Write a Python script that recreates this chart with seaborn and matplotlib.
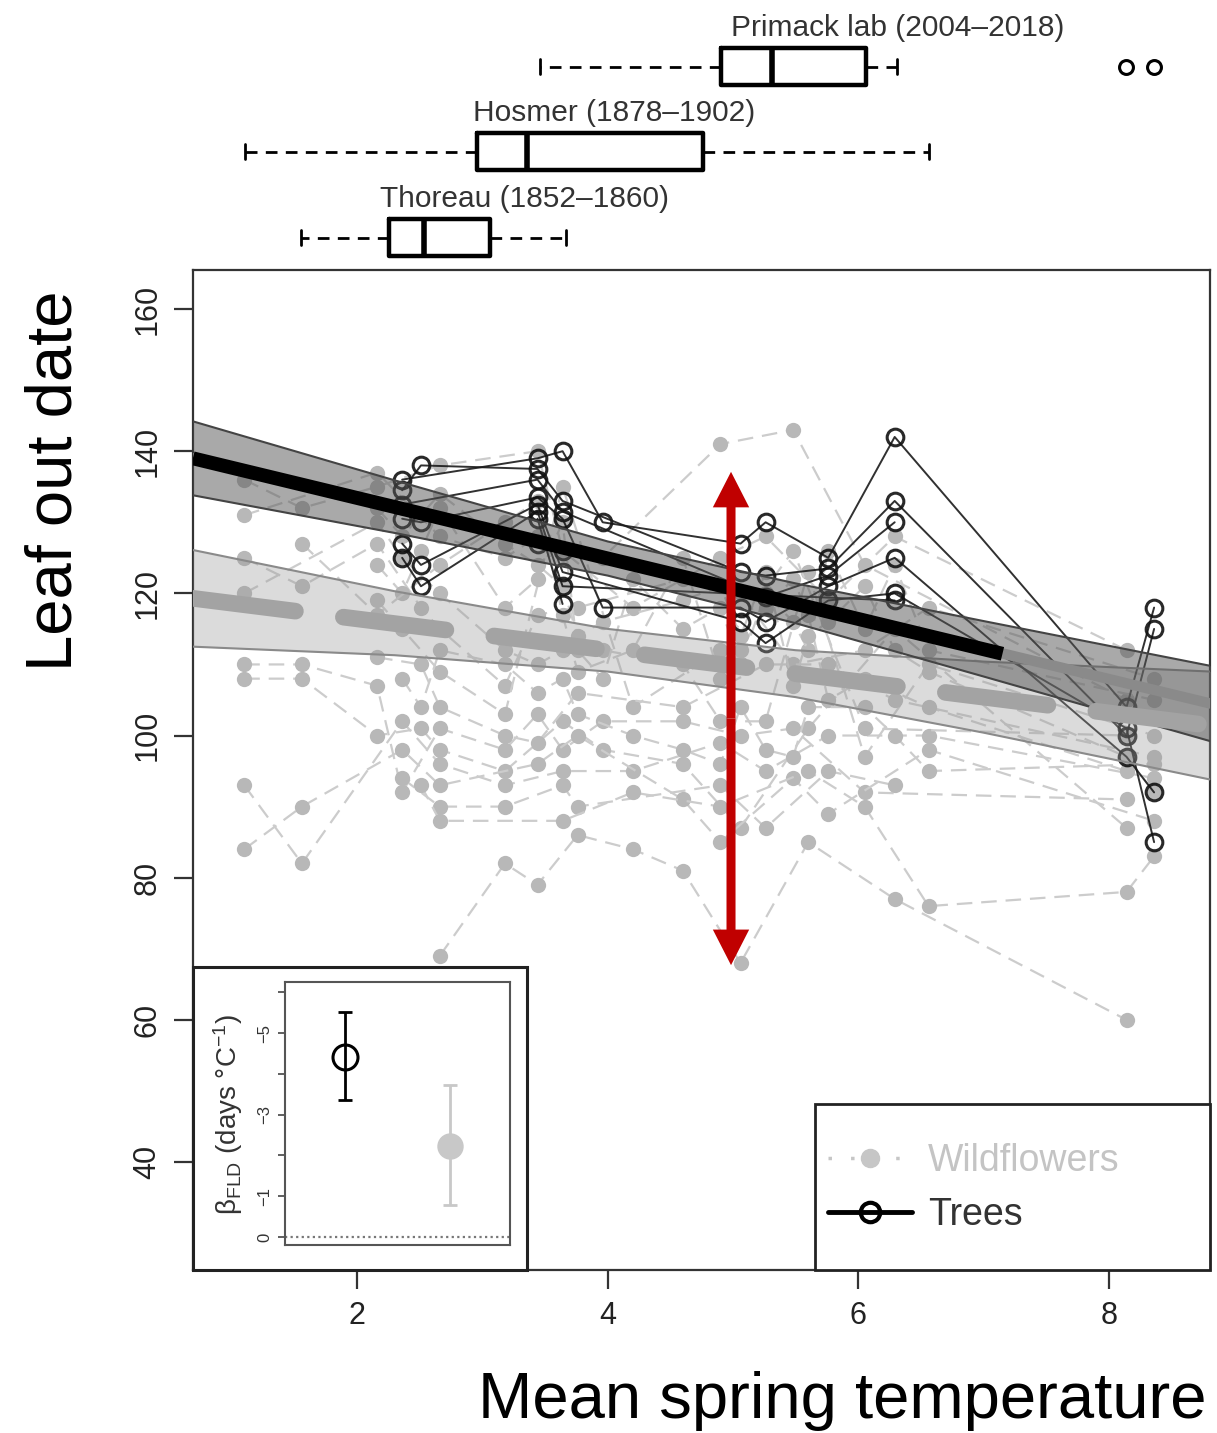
import numpy as np
import pandas as pd
import matplotlib
matplotlib.use("Agg")
import matplotlib.pyplot as plt
from matplotlib.lines import Line2D
from matplotlib.patches import Rectangle
import seaborn as sns

n = np.nan
# ---------------- data ----------------
# year mean spring temperatures at which wildflowers were observed
wf_temps = [1.10, 1.56, 2.16, 2.36, 2.51, 2.66, 3.18, 3.44, 3.64, 3.76, 3.96, 4.20,
            4.60, 4.90, 5.06, 5.26, 5.48, 5.60, 5.76, 6.05, 6.29, 6.56, 8.14, 8.36]
wf_A = [136, 132, 135, n, n, 138, n, 140, 126, n, n, 118, n, 125, n, 128, n, n, 119, n, 128, n, 112, n]
wf_B = [131, n, 137, n, n, 128, 125, 128, n, n, 125, n, n, 141, n, n, 143, n, n, 124, n, n, 105, n]
wf_C = [125, 121, 127, n, 118, 115, 107, 117, n, 118, n, n, 122, n, 120, n, 110, n, n, 112, n, 118, n, 108]
wf_D = [120, n, 130, 125, n, 120, 112, 110, 112, n, 112, n, 110, 102, n, 102, n, 123, n, 97, n, 110, n, 100]
wf_E = [110, 110, 107, 92, n, 101, 98, 103, 98, n, 102, n, 102, n, 100, n, 101, n, n, 92, n, n, 91, n]
wf_F = [108, 108, 100, n, 101, 98, 95, n, 102, n, 98, n, 96, n, 87, n, n, 101, n, n, 115, n, 87, n]
wf_G = [93, 82, n, 102, n, 96, 93, n, 95, n, n, 95, n, 99, n, 95, n, n, 100, n, n, 100, n, 94]
wf_H = [84, 90, n, 98, n, 93, n, 96, n, 100, n, n, 91, 85, n, n, 94, n, 89, n, n, 98, n, 88]
wf_I = [n, n, 119, 115, n, 109, 103, n, 135, n, n, 104, n, 112, n, n, 126, n, n, 101, n, n, 100, n]
wf_J = [n, n, 111, n, 110, 104, 100, 99, n, 106, n, n, 104, n, n, 110, n, n, 110, n, 105, n, n, 97]
wf_K = [n, n, n, 94, n, 90, 90, n, 93, 90, n, n, n, 93, n, 87, n, n, 95, n, 93, n, n, n]
wf_L = [n, n, n, n, 93, 88, n, n, 88, n, n, 92, n, 90, n, n, n, 95, n, 90, n, 76, 78, 83]
wf_M = [n, n, n, n, n, 69, 82, 79, n, 86, n, 84, 81, n, 68, n, n, 85, n, n, 77, n, 60, n]
wf_N = [n, n, 124, 120, 126, 132, 118, 122, 130, 112, 108, 122, 115, 118, 110, 120, 116, 112, 126, 115, 124, 112, n, 105]
wf_O = [n, 127, 117, n, n, 124, 130, 133, 117, 109, n, 112, 125, 108, 112, 118, 122, 117, 105, 108, n, 104, 95, n]
wf_P = [n, n, n, 108, 104, 112, 110, 106, 108, 103, n, 100, 98, 96, 104, 98, 97, 104, n, 104, 100, 95, n, 96]
wf_Q = [n, n, 132, 128, n, 134, 127, 124, 121, 114, 116, n, 119, 121, 114, 123, 107, 114, 116, 121, 112, 109, 97, 92]
wf_species = {"A": wf_A, "B": wf_B, "C": wf_C, "D": wf_D, "E": wf_E, "F": wf_F, "G": wf_G,
              "H": wf_H, "I": wf_I, "J": wf_J, "K": wf_K, "L": wf_L, "M": wf_M,
              "N": wf_N, "O": wf_O, "P": wf_P, "Q": wf_Q}

# year mean spring temperatures at which trees were observed
tree_temps = [2.36, 2.51, 3.44, 3.64, 3.96, 5.06, 5.26, 5.76, 6.29, 8.14, 8.36]
tr_1 = [136, n, 139, 140, 130, 127, 130, 125, 142, 104, 118]
tr_2 = [134.5, 138, 137.5, 133, n, 123, 122.5, 123.5, 133, 100, 115]
tr_3 = [132.5, n, 136, 131.5, n, n, 119.5, 122.5, 130, n, n]
tr_4 = [130.5, 130, 133.5, 130.5, 118, 118, 116, 121, 125, 97, 92]
tr_5 = [127, 124, 132.5, 123, n, 116, 113, 119, 120, 101, 85]
tr_6 = [125, 121, 131.5, 121, n, n, n, n, 119, n, n]
tr_7 = [n, n, 130.5, 118.5, n, n, n, n, n, n, n]
tr_8 = [n, n, 127, 126, n, n, n, n, n, n, n]
tree_species = {"t1": tr_1, "t2": tr_2, "t3": tr_3, "t4": tr_4,
                "t5": tr_5, "t6": tr_6, "t7": tr_7, "t8": tr_8}

# fitted relationships and 95% bands
band_x = [0.69, 2.3, 4.0, 5.5, 7.0, 8.81]
tree_band_hi = [144.2, 135.9, 127.3, 121.4, 116.1, 109.8]
tree_band_lo = [133.8, 128.5, 122.5, 115.8, 108.3, 99.2]
wf_band_hi = [126.1, 120.3, 115.0, 112.0, 110.4, 109.0]
wf_band_lo = [112.5, 111.3, 109.0, 105.4, 100.4, 93.8]
tree_fit_x = [0.69, 8.81]
tree_fit_y = [139.0, 104.5]
tree_fit_black_x = [0.69, 7.15]
tree_fit_black_y = [139.0, 111.5]
wf_fit_x = [0.69, 8.81]
wf_fit_y = [119.3, 101.4]

# temperature distributions of the three data sets
box_names = ["Thoreau (1852\u20131860)", "Hosmer (1878\u20131902)", "Primack lab (2004\u20132018)"]
box_whislo = [1.553, 1.106, 3.460]
box_q1 = [2.255, 2.957, 4.904]
box_med = [2.535, 3.356, 5.311]
box_q3 = [3.061, 4.761, 6.061]
box_whishi = [3.668, 6.564, 6.309]
box_fliers = [[], [], [8.136, 8.359]]

# inset: temperature sensitivity
inset_groups = ["Trees", "Wildflowers"]
inset_est = [-4.41, -2.22]
inset_lo = [-5.52, -3.72]
inset_hi = [-3.37, -0.79]

# arrow annotation
arrow_x = 4.984
arrow_top = 137.1
arrow_bottom = 67.7

# ---------------- style ----------------
sns.set_style("ticks")
plt.rcParams["font.family"] = ["Liberation Sans", "DejaVu Sans"]
plt.rcParams["mathtext.fontset"] = "custom"
plt.rcParams["mathtext.rm"] = "Liberation Sans"
plt.rcParams["mathtext.it"] = "Liberation Sans:italic"

W, H = 1217, 1433
fig = plt.figure(figsize=(W / 100, H / 100), dpi=100)
fig.patch.set_facecolor("white")

L0, R0, T0, B0 = 193, 1210, 270, 1270
ax = fig.add_axes([L0 / W, 1 - B0 / H, (R0 - L0) / W, (B0 - T0) / H])
XLIM = (0.691, 8.806)
ax.set_xlim(*XLIM)
ax.set_ylim(24.81, 165.49)

# wildflowers
wf_df = pd.DataFrame([(sp, t, v) for sp, vals in wf_species.items()
                      for t, v in zip(wf_temps, vals) if not np.isnan(v)],
                     columns=["species", "temp", "doy"])
sns.lineplot(data=wf_df, x="temp", y="doy", units="species", estimator=None, sort=True,
             color="#cccccc", lw=1.6, linestyle=(0, (7, 4)), marker="o", markersize=11,
             markerfacecolor="#b8b8b8", markeredgecolor="#b8b8b8", markeredgewidth=0,
             legend=False, ax=ax, zorder=1)

# trees
tr_df = pd.DataFrame([(sp, t, v) for sp, vals in tree_species.items()
                      for t, v in zip(tree_temps, vals) if not np.isnan(v)],
                     columns=["species", "temp", "doy"])
sns.lineplot(data=tr_df, x="temp", y="doy", units="species", estimator=None, sort=True,
             color="#1a1a1a", lw=1.4, alpha=0.9, marker="o", markersize=12,
             markerfacecolor="none", markeredgecolor="#111111", markeredgewidth=2.2,
             legend=False, ax=ax, zorder=2)

# bands
ax.fill_between(band_x, wf_band_lo, wf_band_hi, color="#999999", alpha=0.35, lw=0, zorder=3)
ax.plot(band_x, wf_band_lo, color="#8a8a8a", lw=1.5, zorder=3)
ax.plot(band_x, wf_band_hi, color="#8a8a8a", lw=1.5, zorder=3)
ax.fill_between(band_x, tree_band_lo, tree_band_hi, color="#555555", alpha=0.5, lw=0, zorder=3)
ax.plot(band_x, tree_band_lo, color="#444444", lw=1.5, zorder=3)
ax.plot(band_x, tree_band_hi, color="#444444", lw=1.5, zorder=3)

# fitted lines
ax.plot(wf_fit_x, wf_fit_y, color="#a3a3a3", lw=12,
        dash_capstyle="round", linestyle=(0, (6.2, 2.9)), zorder=4)
ax.plot(tree_fit_x, tree_fit_y, color="#8a8a8a", lw=7.5, zorder=4)
ax.plot(tree_fit_black_x, tree_fit_black_y, color="black", lw=10,
        solid_capstyle="butt", zorder=4)

# red double arrow
mid = (arrow_top + arrow_bottom) / 2
for tip in (arrow_top, arrow_bottom):
    ax.arrow(arrow_x, mid, 0, tip - mid, width=0.072, head_width=0.29, head_length=5.0,
             length_includes_head=True, color="#c00000", lw=0, zorder=8)

# axes style
for s in ax.spines.values():
    s.set_linewidth(1.6)
    s.set_color("#333333")
ax.set_xticks([2, 4, 6, 8])
ax.set_yticks([40, 60, 80, 100, 120, 140, 160])
ax.tick_params(axis="both", length=14, width=1.6, color="#333333", labelsize=22,
               labelcolor="#222222", direction="out", pad=8)
ax.tick_params(axis="y", labelrotation=90)
for lab in ax.get_yticklabels():
    lab.set_verticalalignment("center")
ax.set_xlabel("")
ax.set_ylabel("")

# legend box
ax.add_patch(Rectangle(((815 - L0) / (R0 - L0), 0), (R0 - 815) / (R0 - L0), (B0 - 1104) / (B0 - T0),
                       transform=ax.transAxes, facecolor="white", edgecolor="#222222",
                       lw=2, zorder=9, clip_on=False))
handles = [Line2D([], [], color="#c6c6c6", lw=2.5, linestyle=(0, (1, 5.5)), marker="o",
                  markersize=13, markerfacecolor="#c6c6c6", markeredgecolor="#c6c6c6"),
           Line2D([], [], color="black", lw=3.5, marker="o", markersize=14,
                  markerfacecolor="none", markeredgecolor="black", markeredgewidth=3)]
leg = ax.legend(handles, ["Wildflowers", "Trees"], loc="center left",
                bbox_to_anchor=((828 - L0) / (R0 - L0), (B0 - 1188) / (B0 - T0)),
                frameon=False, fontsize=27, handlelength=2.24, handletextpad=0.43,
                labelspacing=0.48, borderpad=0, borderaxespad=0,
                labelcolor=["#c4c4c4", "#333333"])
leg.set_zorder(11)

# inset outer box
ax.add_patch(Rectangle((0, 0), (527 - L0) / (R0 - L0), (B0 - 967) / (B0 - T0),
                       transform=ax.transAxes, facecolor="white", edgecolor="#222222",
                       lw=2.2, zorder=9, clip_on=False))

# ---------------- boxplots on top ----------------
bax = fig.add_axes([L0 / W, 1 - 262 / H, (R0 - L0) / W, 262 / H])
bax.set_xlim(*XLIM)
bax.set_ylim(262, 0)
bax.axis("off")
stats = [dict(label=nm, whislo=a, q1=b, med=c, q3=d, whishi=e, fliers=f)
         for nm, a, b, c, d, e, f in zip(box_names, box_whislo, box_q1, box_med,
                                        box_q3, box_whishi, box_fliers)]
bkw = dict(positions=[237.5, 151.5, 66.5], widths=37, capwidths=15, manage_ticks=False,
           boxprops=dict(lw=3.2, color="black"),
           medianprops=dict(lw=4.0, color="black"),
           whiskerprops=dict(lw=2.0, color="black", linestyle=(0, (4.2, 3.0))),
           capprops=dict(lw=2.0, color="black"),
           flierprops=dict(marker="o", markerfacecolor="none", markeredgecolor="black",
                           markersize=10, markeredgewidth=2.2))
try:
    bax.bxp(stats, orientation="horizontal", **bkw)
except TypeError:
    bax.bxp(stats, vert=False, **bkw)
label_x = [3.333, 4.055, 6.317]
label_y = [199, 113, 28]
for nm, lx, ly in zip(box_names, label_x, label_y):
    bax.text(lx, ly, nm, ha="center", va="center", fontsize=21.5, color="#333333")

# ---------------- inset ----------------
iax = fig.add_axes([285 / W, 1 - 1245 / H, 225 / W, 263 / H])
iax.set_zorder(12)
iax.set_facecolor("white")
iax.set_xlim(0.43, 2.57)
iax.set_ylim(0.196, -6.25)
iax.axhline(0, color="#777777", lw=1.6, linestyle=(0, (1, 1.5)))
inset_colors = ["black", "#c8c8c8"]
for i, (g, est, lo, hi, col) in enumerate(zip(inset_groups, inset_est, inset_lo, inset_hi, inset_colors)):
    xi = i + 1
    iax.errorbar([xi], [est], yerr=[[est - lo], [hi - est]], fmt="none", ecolor=col,
                 elinewidth=2, capsize=5, capthick=2)
    if i == 0:
        iax.plot([xi], [est], marker="o", markersize=18, markerfacecolor="none",
                 markeredgecolor=col, markeredgewidth=2.2)
    else:
        iax.plot([xi], [est], marker="o", markersize=18, markerfacecolor=col,
                 markeredgecolor=col)
iax.set_xticks([])
iax.set_yticks([0, -1, -2, -3, -4, -5, -6])
iax.set_yticklabels(["0", "\u22121", "", "\u22123", "", "\u22125", ""])
iax.tick_params(axis="y", length=5, width=1.2, color="#444444", labelsize=12,
                labelcolor="#333333", pad=4, labelrotation=90)
for lab in iax.get_yticklabels():
    lab.set_verticalalignment("center")
for s in iax.spines.values():
    s.set_linewidth(1.5)
    s.set_color("#555555")
fig.text(228 / W, 1 - 1115 / H, "\u03b2$_{\\mathrm{FLD}}$ (days \u00b0C$^{-1}$)",
         rotation=90, ha="center", va="center", fontsize=20, color="#333333")

# ---------------- axis titles ----------------
fig.text(72 / W, 1 - 481 / H, "Leaf out date", rotation=90, rotation_mode="anchor",
         ha="center", va="baseline", fontsize=47, color="black")
fig.text(1207 / W, 1 - 1418 / H, "Mean spring temperature", ha="right", va="baseline",
         fontsize=47, color="black")

fig.savefig("out.png", dpi=100, facecolor="white")
